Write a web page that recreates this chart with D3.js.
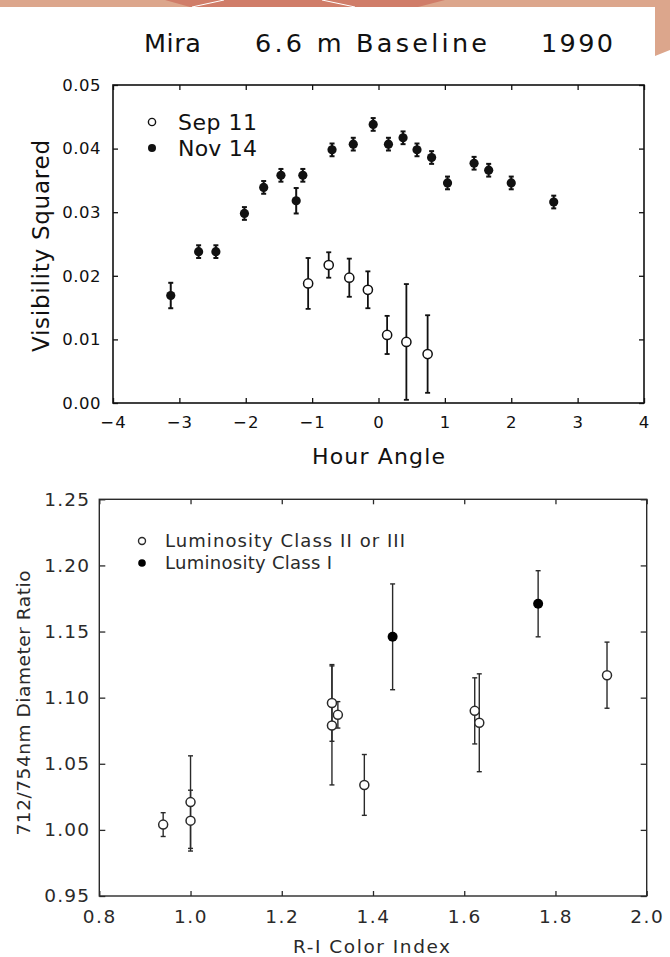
<!DOCTYPE html>
<html>
<head>
<meta charset="utf-8">
<script src="https://cdn.jsdelivr.net/npm/d3@7"></script>
<style>
  html, body { margin: 0; padding: 0; background: #fff; }
  svg { display: block; }
  text { font-family: "DejaVu Sans", "Liberation Sans", sans-serif; }
</style>
</head>
<body>
<script>
// ---- Upper panel: Mira visibility vs hour angle ----
const hourTicks = [-4, -3, -2, -1, 0, 1, 2, 3, 4];
const visTicks = [0, 0.01, 0.02, 0.03, 0.04, 0.05];

const novHA  = [-3.13, -2.71, -2.45, -2.02, -1.73, -1.47, -1.24, -1.14, -0.70, -0.38, -0.08, 0.15, 0.37, 0.58, 0.80, 1.04, 1.44, 1.66, 2.00, 2.64];
const novV2  = [0.0169, 0.0238, 0.0238, 0.0298, 0.0339, 0.0358, 0.0318, 0.0358, 0.0398, 0.0407, 0.0438, 0.0407, 0.0417, 0.0398, 0.0386, 0.0346, 0.0377, 0.0366, 0.0346, 0.0316];
const novErr = [0.0020, 0.0010, 0.0010, 0.0010, 0.0010, 0.0010, 0.0020, 0.0010, 0.0010, 0.0010, 0.0010, 0.0010, 0.0010, 0.0010, 0.0010, 0.0010, 0.0010, 0.0010, 0.0010, 0.0010];

const sepHA  = [-1.06, -0.75, -0.44, -0.16, 0.13, 0.42, 0.74];
const sepV2  = [0.0188, 0.0217, 0.0197, 0.0178, 0.0107, 0.0096, 0.0077];
const sepErr = [0.0040, 0.0020, 0.0030, 0.0029, 0.0030, 0.0091, 0.0061];

// ---- Lower panel: diameter ratio vs R-I colour ----
const riTicks = [0.8, 1.0, 1.2, 1.4, 1.6, 1.8, 2.0];
const ratioTicks = [0.95, 1.00, 1.05, 1.10, 1.15, 1.20, 1.25];

const giantRI    = [0.940, 1.000, 1.000, 1.310, 1.310, 1.323, 1.381, 1.623, 1.633, 1.913];
const giantRatio = [1.004, 1.021, 1.007, 1.096, 1.079, 1.087, 1.034, 1.090, 1.081, 1.117];
const giantErr   = [0.009, 0.035, 0.023, 0.029, 0.045, 0.010, 0.023, 0.025, 0.037, 0.025];

const superRI    = [1.443, 1.762];
const superRatio = [1.146, 1.171];
const superErr   = [0.040, 0.025];

const W = 670, H = 957;
const svg = d3.select("body").append("svg").attr("width", W).attr("height", H);

// page decoration: salmon band along the top and a tab on the right
svg.append("rect").attr("x", 0).attr("y", 0).attr("width", W).attr("height", 7).attr("fill", "#dca68c");
svg.append("polygon").attr("points", "165,0 445,0 418,7 190,7").attr("fill", "#d07d69");
svg.append("line").attr("x1", 192).attr("y1", 7).attr("x2", 224).attr("y2", 0).attr("stroke", "#fff").attr("stroke-width", 1);
svg.append("line").attr("x1", 322).attr("y1", 0).attr("x2", 355).attr("y2", 7).attr("stroke", "#fff").attr("stroke-width", 1);
svg.append("polygon").attr("points", "655,0 670,0 670,50 655,56").attr("fill", "#dca68c");

// ================= Upper panel =================
const x1 = d3.scaleLinear().domain([-4, 4]).range([113, 644]);
const y1 = d3.scaleLinear().domain([0, 0.05]).range([403, 85]);
const ink1 = "#111";
const g1 = svg.append("g");

// title
const title = g1.append("g").attr("font-size", 25.5).attr("fill", ink1);
title.append("text").attr("x", 144).attr("y", 52).attr("textLength", 57).text("Mira");
title.append("text").attr("x", 255).attr("y", 52).attr("textLength", 232).text("6.6 m Baseline");
title.append("text").attr("x", 541).attr("y", 52).attr("textLength", 72).text("1990");

function styleAxis(sel, color, fs, ls) {
  sel.select(".domain").remove();
  sel.selectAll(".tick line").attr("stroke", color).attr("stroke-width", 1.3);
  sel.selectAll(".tick text").attr("fill", color).attr("font-size", fs)
     .attr("font-family", "DejaVu Sans, sans-serif").attr("letter-spacing", ls);
}

// axes with inward ticks
g1.append("g").attr("transform", `translate(0,${y1(0)})`)
  .call(d3.axisBottom(x1).tickValues(hourTicks).tickSizeInner(-5).tickSizeOuter(0).tickPadding(13).tickFormat(d3.format("d")))
  .call(s => styleAxis(s, ink1, 16.5, 1));
g1.append("g").attr("transform", `translate(0,${y1(0.05)})`)
  .call(d3.axisTop(x1).tickValues(hourTicks).tickSizeInner(-5).tickSizeOuter(0).tickFormat(""))
  .call(s => styleAxis(s, ink1, 16, 0));
g1.append("g").attr("transform", `translate(${x1(-4)},0)`)
  .call(d3.axisLeft(y1).tickValues(visTicks).tickSizeInner(-5).tickSizeOuter(0).tickPadding(12).tickFormat(d3.format(".2f")))
  .call(s => styleAxis(s, ink1, 16.5, 0.5));
g1.append("g").attr("transform", `translate(${x1(4)},0)`)
  .call(d3.axisRight(y1).tickValues(visTicks).tickSizeInner(-5).tickSizeOuter(0).tickFormat(""))
  .call(s => styleAxis(s, ink1, 16, 0));

g1.append("rect").attr("x", x1(-4)).attr("y", y1(0.05))
  .attr("width", x1(4) - x1(-4)).attr("height", y1(0) - y1(0.05))
  .attr("fill", "none").attr("stroke", ink1).attr("stroke-width", 1.6);

// axis titles
g1.append("text").attr("x", 312).attr("y", 464).attr("font-size", 22).attr("fill", ink1)
  .attr("textLength", 133).text("Hour Angle");
g1.append("text").attr("transform", `translate(49,${246}) rotate(-90)`).attr("text-anchor", "middle")
  .attr("font-size", 23).attr("fill", ink1).attr("textLength", 212).text("Visibility Squared");

function errorBars(g, xs, ys, es, xsc, ysc, color, sw, cap) {
  const d = xs.map((v, i) => ({ x: v, y: ys[i], e: es[i] }));
  const eg = g.append("g").attr("stroke", color).attr("stroke-width", sw).attr("fill", "none");
  eg.selectAll("line.v").data(d).join("line").attr("class", "v")
    .attr("x1", p => xsc(p.x)).attr("x2", p => xsc(p.x))
    .attr("y1", p => ysc(p.y - p.e)).attr("y2", p => ysc(p.y + p.e));
  eg.selectAll("line.t").data(d).join("line").attr("class", "t")
    .attr("x1", p => xsc(p.x) - cap).attr("x2", p => xsc(p.x) + cap)
    .attr("y1", p => ysc(p.y + p.e)).attr("y2", p => ysc(p.y + p.e));
  eg.selectAll("line.b").data(d).join("line").attr("class", "b")
    .attr("x1", p => xsc(p.x) - cap).attr("x2", p => xsc(p.x) + cap)
    .attr("y1", p => ysc(p.y - p.e)).attr("y2", p => ysc(p.y - p.e));
  return d;
}

// Nov 14 (filled)
const novPts = errorBars(g1, novHA, novV2, novErr, x1, y1, ink1, 2, 2.5);
g1.append("g").selectAll("circle").data(novPts).join("circle")
  .attr("cx", p => x1(p.x)).attr("cy", p => y1(p.y)).attr("r", 4.6).attr("fill", ink1);

// Sep 11 (open)
const sepPts = errorBars(g1, sepHA, sepV2, sepErr, x1, y1, ink1, 1.8, 2.5);
g1.append("g").selectAll("circle").data(sepPts).join("circle")
  .attr("cx", p => x1(p.x)).attr("cy", p => y1(p.y)).attr("r", 4.6)
  .attr("fill", "#fff").attr("stroke", ink1).attr("stroke-width", 1.5);

// legend
const leg1 = g1.append("g").attr("font-size", 22).attr("fill", ink1);
leg1.append("circle").attr("cx", 152).attr("cy", 122).attr("r", 3.6).attr("fill", "none").attr("stroke", ink1).attr("stroke-width", 1.4);
leg1.append("circle").attr("cx", 152).attr("cy", 148).attr("r", 4).attr("fill", ink1);
leg1.append("text").attr("x", 178).attr("y", 130).attr("textLength", 79).text("Sep 11");
leg1.append("text").attr("x", 178).attr("y", 156).attr("textLength", 79).text("Nov 14");

// ================= Lower panel =================
const x2 = d3.scaleLinear().domain([0.8, 2.0]).range([99.3, 646.7]);
const y2 = d3.scaleLinear().domain([0.95, 1.25]).range([896, 499.3]);
const ink2 = "#2a2a2a";
const g2 = svg.append("g");

g2.append("g").attr("transform", `translate(0,${y2(0.95)})`)
  .call(d3.axisBottom(x2).tickValues(riTicks).tickSizeInner(-5).tickSizeOuter(0).tickPadding(14).tickFormat(d3.format(".1f")))
  .call(s => styleAxis(s, ink2, 18.5, 1.5));
g2.append("g").attr("transform", `translate(0,${y2(1.25)})`)
  .call(d3.axisTop(x2).tickValues(riTicks).tickSizeInner(-5).tickSizeOuter(0).tickFormat(""))
  .call(s => styleAxis(s, ink2, 17, 0));
g2.append("g").attr("transform", `translate(${x2(0.8)},0)`)
  .call(d3.axisLeft(y2).tickValues(ratioTicks).tickSizeInner(-6).tickSizeOuter(0).tickPadding(9).tickFormat(d3.format(".2f")))
  .call(s => styleAxis(s, ink2, 18.5, 1.2));
g2.append("g").attr("transform", `translate(${x2(2.0)},0)`)
  .call(d3.axisRight(y2).tickValues(ratioTicks).tickSizeInner(-6).tickSizeOuter(0).tickFormat(""))
  .call(s => styleAxis(s, ink2, 17, 0));

g2.append("rect").attr("x", x2(0.8)).attr("y", y2(1.25))
  .attr("width", x2(2.0) - x2(0.8)).attr("height", y2(0.95) - y2(1.25))
  .attr("fill", "none").attr("stroke", ink2).attr("stroke-width", 1.4);

g2.append("text").attr("x", 293).attr("y", 953).attr("font-size", 18.5).attr("fill", ink2)
  .attr("textLength", 157).text("R-I Color Index");
g2.append("text").attr("transform", `translate(30,${703}) rotate(-90)`).attr("text-anchor", "middle")
  .attr("font-size", 18.5).attr("fill", ink2).attr("textLength", 265).text("712/754nm Diameter Ratio");

const giantPts = errorBars(g2, giantRI, giantRatio, giantErr, x2, y2, ink2, 1.4, 2.5);
const superPts = errorBars(g2, superRI, superRatio, superErr, x2, y2, ink2, 1.4, 2.5);
g2.append("g").selectAll("circle").data(giantPts).join("circle")
  .attr("cx", p => x2(p.x)).attr("cy", p => y2(p.y)).attr("r", 4.5)
  .attr("fill", "#fff").attr("stroke", ink2).attr("stroke-width", 1.5);
g2.append("g").selectAll("circle").data(superPts).join("circle")
  .attr("cx", p => x2(p.x)).attr("cy", p => y2(p.y)).attr("r", 5).attr("fill", "#000");

const leg2 = g2.append("g").attr("font-size", 18).attr("fill", ink2);
leg2.append("circle").attr("cx", 142).attr("cy", 541).attr("r", 3.5).attr("fill", "none").attr("stroke", ink2).attr("stroke-width", 1.4);
leg2.append("circle").attr("cx", 142).attr("cy", 563).attr("r", 3.8).attr("fill", "#000");
leg2.append("text").attr("x", 165).attr("y", 547).attr("textLength", 240).text("Luminosity Class II or III");
leg2.append("text").attr("x", 165).attr("y", 569).attr("textLength", 167).text("Luminosity Class I");
</script>
</body>
</html>
